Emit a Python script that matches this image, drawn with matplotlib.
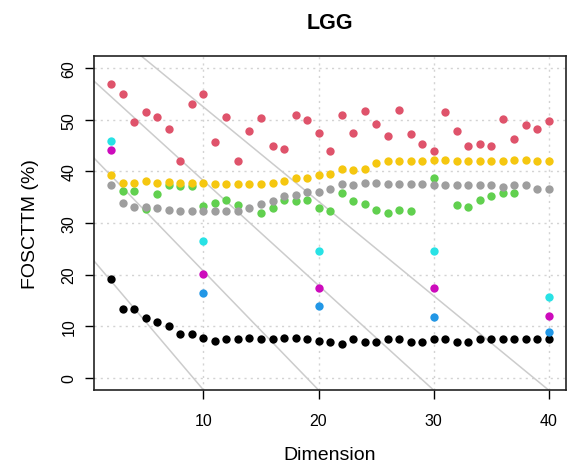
import numpy as np
import matplotlib
matplotlib.use("Agg")
import matplotlib.pyplot as plt

plt.rcParams['font.family'] = ['Liberation Sans', 'DejaVu Sans']

nan = np.nan
dims = np.arange(2, 41)

# FOSCTTM (%) per method, one value per dimension 2..40
black = [19.2, 13.3, 13.3, 11.6, 10.75, 10.0, 8.5, 8.5, 7.7, 7.1, 7.4, 7.4, 7.7,
         7.4, 7.5, 7.7, 7.7, 7.4, 7.2, 7.0, 6.6, 7.5, 7.0, 7.0, 7.4, 7.4, 7.0,
         7.0, 7.4, 7.4, 7.0, 7.0, 7.5, 7.5, 7.5, 7.5, 7.5, 7.5, 7.4]
red = [56.9, 55.1, 49.6, 51.5, 50.5, 48.2, 42.0, 53.0, 55.1, 45.7, 50.5, 42.0,
       47.8, 50.4, 45.0, 44.4, 50.9, 49.9, 47.5, 43.9, 50.9, 47.5, 51.8, 49.3,
       46.9, 52.0, 47.2, 45.4, 43.9, 51.5, 47.8, 44.9, 45.4, 45.0, 50.2, 46.3,
       49.1, 48.2, 49.7]
green = [nan, 36.3, 36.3, 32.7, 35.7, 37.4, 37.2, 37.2, 33.3, 33.9, 34.5, 33.4,
         nan, 32.0, 32.9, 34.5, 34.2, 34.4, 33.0, 32.4, 35.9, 34.2, 33.7, 32.6,
         32.0, 32.5, 32.3, nan, 38.7, nan, 33.5, 33.2, 34.4, 35.3, 35.9, 35.9,
         nan, nan, nan]
yellow = [39.4, 37.8, 37.8, 38.1, 37.8, 38.05, 37.8, 37.8, 37.8, 37.55, 37.55,
          37.5, 37.5, 37.5, 37.8, 38.1, 38.7, 38.7, 39.4, 39.6, 40.5, 40.3, 40.5,
          41.7, 42.0, 42.0, 42.0, 42.0, 42.3, 42.3, 42.0, 42.0, 42.0, 42.0, 42.0,
          42.3, 42.3, 42.0, 42.0]
gray = [37.3, 33.9, 33.2, 33.2, 32.9, 32.6, 32.3, 32.3, 32.3, 32.3, 32.3, 32.3,
        32.9, 33.6, 34.2, 35.2, 35.5, 36.0, 36.0, 36.6, 37.5, 37.3, 37.8, 37.8,
        37.5, 37.5, 37.5, 37.5, 37.3, 37.3, 37.3, 37.3, 37.3, 37.3, 37.0, 37.3,
        37.3, 36.6, 36.5]

# sparse methods, only run at a few dimensions
cyan_dims = [2, 10, 20, 30, 40]
cyan = [46.0, 26.5, 24.5, 24.5, 15.6]
magenta_dims = [2, 10, 20, 30, 40]
magenta = [44.2, 20.1, 17.35, 17.4, 11.9]
blue_dims = [10, 20, 30, 40]
blue = [16.4, 13.8, 11.7, 8.9]

# light reference lines (intercept, slope)
ref_intercepts = [23.9, 43.7, 58.5, 70.8]
ref_slopes = [-2.63, -2.305, -2.03, -1.83]

fig = plt.figure(figsize=(5.68, 4.77), dpi=100)
ax = fig.add_axes([0.1655, 0.1803, 0.8310, 0.7002])

ax.set_xlim(0.48, 41.52)
ax.set_ylim(-2.4, 62.4)

# dotted grid
for gx in [10, 20, 30, 40]:
    ax.axvline(gx, color='#D3D3D3', lw=1.0, ls=(0, (1.5, 3)), zorder=0)
for gy in range(0, 61, 10):
    ax.axhline(gy, color='#D3D3D3', lw=1.0, ls=(0, (1.5, 3)), zorder=0)

for a, b in zip(ref_intercepts, ref_slopes):
    ax.axline((0, a), slope=b, color='#CCCCCC', lw=1.1, zorder=1)

ms = 6.0
ax.plot(dims, black, 'o', color='black', ms=ms, mec='none', zorder=2)
ax.plot(dims, red, 'o', color='#DF536B', ms=ms, mec='none', zorder=2)
ax.plot(dims, green, 'o', color='#61D04F', ms=ms, mec='none', zorder=2)
ax.plot(blue_dims, blue, 'o', color='#2297E6', ms=ms, mec='none', zorder=2)
ax.plot(cyan_dims, cyan, 'o', color='#28E2E5', ms=ms, mec='none', zorder=2)
ax.plot(magenta_dims, magenta, 'o', color='#CD0BBC', ms=ms, mec='none', zorder=2)
ax.plot(dims, yellow, 'o', color='#F5C710', ms=ms, mec='none', zorder=2)
ax.plot(dims, gray, 'o', color='#9E9E9E', ms=ms, mec='none', zorder=2)

ax.set_xticks([10, 20, 30, 40])
ax.set_yticks(range(0, 61, 10))
ax.tick_params(axis='both', direction='out', length=6.5, width=1.0,
               labelsize=11.5, color='black')
ax.tick_params(axis='x', pad=10)
ax.tick_params(axis='y', pad=6)
for lab in ax.get_yticklabels():
    lab.set_rotation(90)
    lab.set_va('center')

for sp in ax.spines.values():
    sp.set_linewidth(1.2)
    sp.set_color('#222222')

ax.set_xlabel('Dimension', fontsize=14, labelpad=13)
ax.set_ylabel('FOSCTTM (%)', fontsize=14, labelpad=16)
ax.set_title('LGG', fontsize=15.5, fontweight='bold', pad=20)

fig.savefig('out.png', dpi=100)
